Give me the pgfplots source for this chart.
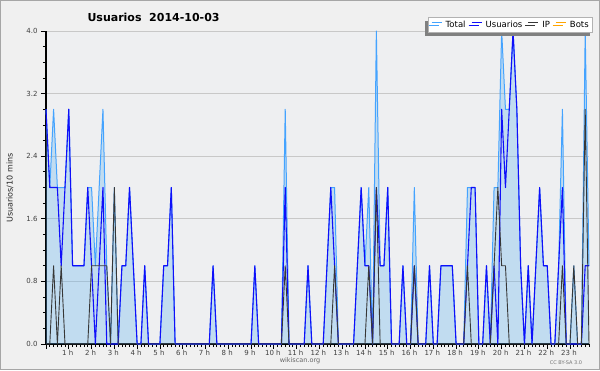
\documentclass[border=0pt]{standalone}
\usepackage{fontspec}
\setmainfont{DejaVu Sans}
\usepackage{pgfplots}
\usepackage{pgfplotstable}
\pgfplotsset{compat=1.18}
\usetikzlibrary{shadows}

\definecolor{bgout}{RGB}{240,240,240}
\definecolor{bgplot}{RGB}{238,239,241}
\definecolor{totline}{RGB}{68,163,255}
\definecolor{totfill}{RGB}{100,180,240}
\definecolor{usr}{RGB}{15,15,250}
\definecolor{ipc}{RGB}{55,55,55}
\definecolor{bots}{RGB}{255,165,0}
\definecolor{gridc}{RGB}{200,200,200}

\pgfplotstableread{
i T U P
0 3 3 0
1 2 2 0
2 3 2 1
3 2 2 0
4 2 1 1
5 2 2 0
6 3 3 0
7 1 1 0
8 1 1 0
9 1 1 0
10 1 1 0
11 2 2 0
12 2 1 1
13 1 0 1
14 2 1 1
15 3 2 1
16 1 0 1
17 0 0 0
18 2 0 2
19 0 0 0
20 1 1 0
21 1 1 0
22 2 2 0
23 1 1 0
24 0 0 0
25 0 0 0
26 1 1 0
27 0 0 0
28 0 0 0
29 0 0 0
30 0 0 0
31 1 1 0
32 1 1 0
33 2 2 0
34 0 0 0
35 0 0 0
36 0 0 0
37 0 0 0
38 0 0 0
39 0 0 0
40 0 0 0
41 0 0 0
42 0 0 0
43 0 0 0
44 1 1 0
45 0 0 0
46 0 0 0
47 0 0 0
48 0 0 0
49 0 0 0
50 0 0 0
51 0 0 0
52 0 0 0
53 0 0 0
54 0 0 0
55 1 1 0
56 0 0 0
57 0 0 0
58 0 0 0
59 0 0 0
60 0 0 0
61 0 0 0
62 0 0 0
63 3 2 1
64 0 0 0
65 0 0 0
66 0 0 0
67 0 0 0
68 0 0 0
69 1 1 0
70 0 0 0
71 0 0 0
72 0 0 0
73 0 0 0
74 1 1 0
75 2 2 0
76 2 1 1
77 0 0 0
78 0 0 0
79 0 0 0
80 0 0 0
81 0 0 0
82 1 1 0
83 2 2 0
84 1 1 0
85 2 1 1
86 0 0 0
87 4 2 2
88 1 1 0
89 1 1 0
90 2 2 0
91 0 0 0
92 0 0 0
93 0 0 0
94 1 1 0
95 0 0 0
96 0 0 0
97 2 1 1
98 0 0 0
99 0 0 0
100 0 0 0
101 1 1 0
102 0 0 0
103 0 0 0
104 1 1 0
105 1 1 0
106 1 1 0
107 1 1 0
108 0 0 0
109 0 0 0
110 0 0 0
111 2 1 1
112 2 2 0
113 2 2 0
114 0 0 0
115 0 0 0
116 1 1 0
117 0 0 0
118 2 1 1
119 2 0 2
120 4 3 1
121 3 2 1
122 3 3 0
123 4 4 0
124 3 3 0
125 1 1 0
126 0 0 0
127 1 1 0
128 0 0 0
129 1 1 0
130 2 2 0
131 1 1 0
132 1 1 0
133 0 0 0
134 0 0 0
135 1 1 0
136 3 2 1
137 0 0 0
138 0 0 0
139 1 0 1
140 0 0 0
141 0 0 0
142 4 1 3
143 1 1 0
}\data

\begin{document}
\begin{tikzpicture}
\useasboundingbox (0pt,0pt) rectangle (600pt,370pt);
\fill[bgout] (0pt,0pt) rectangle (600pt,370pt);
\draw[black!35, line width=1pt] (0.5pt,0.5pt) rectangle (599.5pt,369.5pt);
\begin{axis}[
  at={(46pt,26pt)}, anchor=south west,
  width=543pt, height=313pt, scale only axis,
  xmin=0, xmax=143, ymin=0, ymax=4,
  clip=false,
  axis background/.style={fill=bgplot},
  axis x line*=bottom, axis y line*=left,
  axis line style={black, line width=1.2pt},
  every tick/.style={black, line width=0.8pt},
  tick align=outside,
  major tick length=5pt, minor tick length=3pt,
  xtick={0,6,...,138},
  xticklabels={,1 h,2 h,3 h,4 h,5 h,6 h,7 h,8 h,9 h,10 h,11 h,12 h,13 h,14 h,15 h,16 h,17 h,18 h,19 h,20 h,21 h,22 h,23 h},
  minor xtick={0,1,...,143},
  ytick={0,0.8,1.6,2.4,3.2,4.0},
  minor y tick num=3,
  ymajorgrids,
  grid style={gridc, line width=0.8pt},
  /pgf/number format/assume math mode=true,
  yticklabel style={/pgf/number format/.cd, fixed, fixed zerofill, precision=1},
  tick label style={font=\fontsize{7}{8}\selectfont, text=black!75},
  xticklabel style={yshift=2.5pt, xshift=-1pt},
  legend columns=4,
  legend cell align=left,
  legend image code/.code={\draw[#1] (0pt,2.6pt) -- (10pt,2.6pt);},
  legend style={at={(axis description cs:1.0074,1.0447)}, anchor=north east,
    draw=black!30, fill=white, line width=0.6pt,
    inner xsep=3pt, inner ysep=2pt,
    font=\fontsize{8.5}{9}\selectfont,
    nodes={inner xsep=1pt, inner ysep=1.5pt},
    /tikz/every odd column/.append style={column sep=2.5pt},
    /tikz/every even column/.append style={column sep=4.5pt},
    drop shadow={shadow xshift=-3pt, shadow yshift=-3.5pt, fill=black!50, opacity=1}},
]
\addplot[draw=none, fill=totfill, fill opacity=0.32, forget plot] table[x=i,y=T]{\data} \closedcycle;
\addplot[totline, line width=1pt, line join=round] table[x=i,y=T]{\data};
\addplot[usr, line width=1.1pt, line join=round] table[x=i,y=U]{\data};
\addplot[ipc, line width=0.9pt, line join=round] table[x=i,y=P]{\data};
\addlegendimage{bots, line width=1pt}
\legend{Total,Usuarios,IP,Bots}
\end{axis}
\node[anchor=west, font=\bfseries\fontsize{11}{12}\selectfont] at (84pt,353pt) {Usuarios\ \ 2014-10-03};
\node[rotate=90, font=\fontsize{8}{9}\selectfont, text=black!85] at (10pt,182pt) {Usuarios/10 mins};
\node[font=\fontsize{6.5}{7}\selectfont, text=black!60] at (300pt,9pt) {wikiscan.org};
\node[font=\fontsize{5}{6}\selectfont, text=black!55] at (566pt,7pt) {CC BY-SA 3.0};
\end{tikzpicture}
\end{document}
